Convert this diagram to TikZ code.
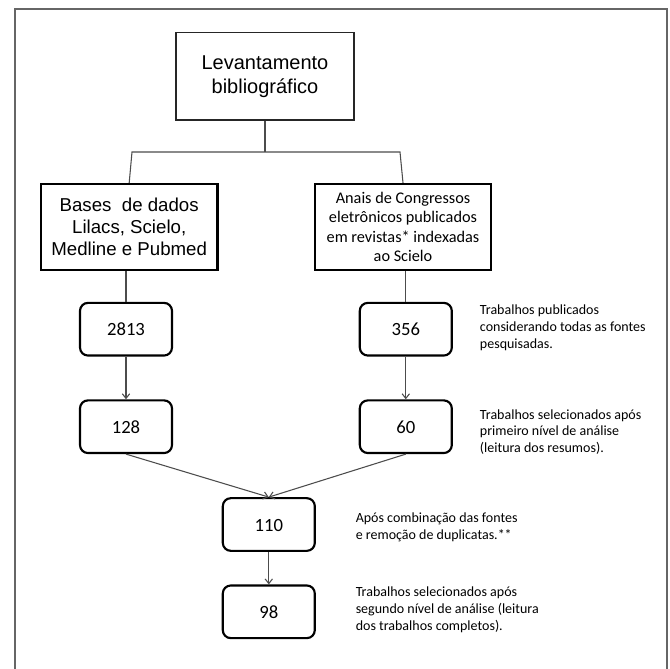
\documentclass[tikz,border=0pt]{standalone}
\usepackage{fontspec}
\setmainfont{Carlito}
\newfontfamily\arialfont{Liberation Sans}
\usepackage{xcolor}
\usepackage{tikz}
\usetikzlibrary{arrows.meta,positioning}

\tikzset{
  topbox/.style={draw=black!85, line width=1pt, inner sep=0pt, align=center,
    minimum width=133.5pt, minimum height=65.6pt,
    font=\arialfont\fontsize{15}{18}\selectfont},
  srcbox/.style={draw=black, line width=1.7pt, inner sep=0pt, align=center,
    minimum width=132.5pt, minimum height=64.5pt},
  countbox/.style={draw=black, line width=1.6pt, rounded corners=6pt, inner sep=0pt,
    minimum width=69pt, minimum height=39.5pt, text height=9.8pt, text depth=0pt,
    font=\fontsize{14}{16}\selectfont},
  note/.style={anchor=west, inner sep=0pt, align=left,
    font=\fontsize{10.5}{12.6}\selectfont},
  link/.style={draw=black!70, line width=0.8pt},
  flow/.style={link, -{Straight Barb[length=3.5pt,width=5.5pt]}}
}

\begin{document}
\begin{tikzpicture}[x=0.75pt,y=-0.75pt]
        \useasboundingbox (0,0) rectangle (670,668);
        \draw[black!60, line width=1.5pt] (15,700) -- (15,9) -- (667,9) -- (667,700);
        \node[topbox] (top) at (265,76.3) {Levantamento\\bibliográfico};
        \node[srcbox, font=\arialfont\fontsize{14}{16.3}\selectfont] (bases) at (129.2,227)
          {Bases\ \ de dados\\Lilacs, Scielo,\\Medline e Pubmed};
        \node[srcbox, font=\fontsize{12.2}{14.7}\selectfont] (anais) at (403,227)
          {Anais de Congressos\\eletrônicos publicados\\em revistas* indexadas\\ao Scielo};
        \node[countbox] (n2813) at (126,329.2) {2813};
        \node[countbox] (n356) at (405.8,329.2) {356};
        \node[countbox] (n128) at (126,426.7) {128};
        \node[countbox] (n60) at (405.8,426.7) {60};
        \node[countbox] (n110) at (268.8,524.5) {110};
        \node[countbox] (n98) at (268.8,611.8) {98};
        \coordinate (splitL) at (132,152);
        \coordinate (splitR) at (400,152);
        \draw[link] (top.south) -- (top.south |- splitL);
        \draw[link] (bases.north) -- (splitL) -- (splitR) -- (anais.north);
        \draw[link] (bases.south -| n2813) -- (n2813.north);
        \draw[link] (anais.south -| n356) -- (n356.north);
        \foreach \a/\b in {n2813/n128, n356/n60, n110/n98}
          \draw[flow] (\a) -- (\b);
        \draw[flow] (n128.south) -- (n110.north);
        \draw[flow] (n60.south) -- (n110.north);
        \node[note] (t356) at (479.7,327.5) {Trabalhos publicados\\considerando todas as fontes\\pesquisadas.};
        \node[note] (t60) at (479.7,432) {Trabalhos selecionados após\\primeiro nível de análise\\(leitura dos resumos).};
        \node[note] (t110) at (355.5,527.5) {Após combinação das fontes\\e remoção de duplicatas.**};
        \node[note] (t98) at (355.5,610) {Trabalhos selecionados após\\segundo nível de análise (leitura\\dos trabalhos completos).};
      \end{tikzpicture}
\end{document}
